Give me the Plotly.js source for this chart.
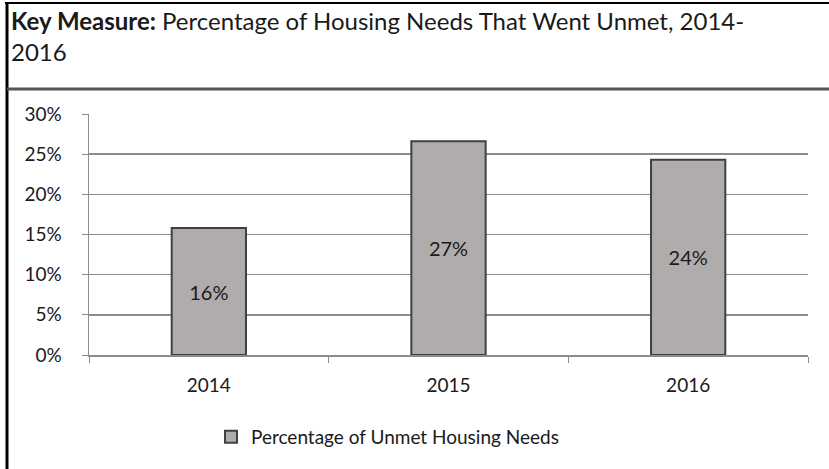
<!DOCTYPE html>
<html>
<head>
<meta charset="utf-8">
<script src="https://cdn.plot.ly/plotly-3.0.1.min.js"></script>
<style>
html,body{margin:0;padding:0;background:#fff;}
#chart{width:829px;height:469px;}
</style>
</head>
<body>
<div id="chart"></div>
<script>
const years = ["2014", "2015", "2016"];
const unmetPct = [15.8, 26.6, 24.3];
const seriesName = "Percentage of Unmet Housing Needs";
const yTickVals = [0, 5, 10, 15, 20, 25, 30];
const yTickText = ["0%", "5%", "10%", "15%", "20%", "25%", "30%"];
const titleText = "<b>Key Measure:</b> Percentage of Housing Needs That Went Unmet, 2014-<br>2016";

const L = 89, R = 21, T = 114, B = 114, W = 829, H = 469;
const pw = W - L - R, ph = H - T - B;
const px = x => (x - L) / pw;
const py = y => (H - B - y) / ph;

const FONT = "Lato, 'Open Sans', sans-serif";
const TXT = "#1a1a1a";

const trace = {
  type: "bar",
  x: years,
  y: unmetPct,
  name: seriesName,
  width: 0.31,
  marker: {color: "#b0acac", line: {color: "#404040", width: 2}},
  texttemplate: "%{y:.0f}%",
  textposition: "inside",
  insidetextanchor: "middle",
  textfont: {family: FONT, size: 20, color: TXT},
  showlegend: true,
  hoverinfo: "skip"
};

const layout = {
  width: W, height: H,
  margin: {l: L, r: R, t: T, b: B},
  paper_bgcolor: "#fff", plot_bgcolor: "#fff",
  font: {family: FONT, color: TXT, size: 16},
  annotations: [{
    text: titleText,
    xref: "paper", yref: "paper",
    x: px(9), xanchor: "left",
    y: py(4), yanchor: "top",
    align: "left",
    showarrow: false,
    font: {family: FONT, size: 24, color: TXT}
  }],
  xaxis: {
    type: "category",
    showgrid: false,
    showline: true, linecolor: "#8c8c8c", linewidth: 1.5,
    ticks: "outside", tickson: "boundaries", ticklen: 6, tickcolor: "#8c8c8c",
    ticklabelstandoff: 13,
    tickfont: {family: FONT, size: 19, color: TXT},
    fixedrange: true
  },
  yaxis: {
    range: [0, 30],
    tickmode: "array",
    tickvals: yTickVals,
    ticktext: yTickText,
    showgrid: true, gridcolor: "#8c8c8c", gridwidth: 1.5,
    zeroline: false,
    showline: true, linecolor: "#8c8c8c", linewidth: 1.5,
    ticks: "outside", ticklen: 6, tickcolor: "#8c8c8c",
    ticklabelstandoff: 16,
    tickfont: {family: FONT, size: 19, color: TXT},
    fixedrange: true
  },
  legend: {
    orientation: "h",
    x: px(211), xanchor: "left",
    y: py(437), yanchor: "middle",
    font: {family: FONT, size: 19, color: TXT},
    itemwidth: 30,
    bgcolor: "rgba(0,0,0,0)"
  },
  shapes: [
    {type: "line", xref: "paper", yref: "paper", x0: px(7), x1: px(7), y0: py(2), y1: py(480), line: {color: "#000", width: 3}},
    {type: "line", xref: "paper", yref: "paper", x0: px(5), x1: px(840), y0: py(3), y1: py(3), line: {color: "#000", width: 2}},
    {type: "line", xref: "paper", yref: "paper", x0: px(7), x1: px(840), y0: py(89), y1: py(89), line: {color: "#555", width: 3}}
  ]
};

Plotly.newPlot("chart", [trace], layout, {displayModeBar: false, staticPlot: true});
</script>
</body>
</html>
